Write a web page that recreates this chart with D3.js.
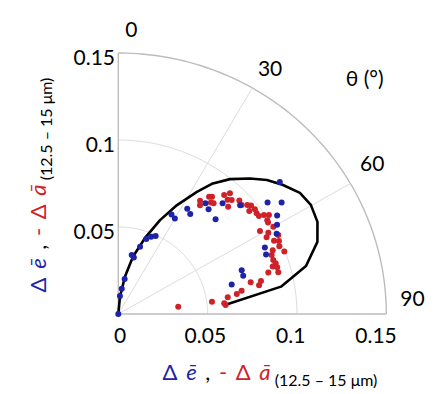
<!DOCTYPE html>
<html>
<head>
<meta charset="utf-8">
<script src="https://cdn.jsdelivr.net/npm/d3@7"></script>
<style>
  html, body { margin: 0; padding: 0; background: #fff; }
  svg { display: block; font-family: Lato, "Open Sans", sans-serif; }
</style>
</head>
<body>
<div id="chart"></div>
<script>
// radial ticks and angle ticks
const radialTicks = [0, 0.05, 0.1, 0.15];
const angleTicks = [0, 30, 60, 90];

// blue series: theta (deg), r
const blueTheta = [0, 5, 7.5, 10, 12.5, 15, 17.5, 20, 22.5, 25, 27.5, 30, 32.5, 35, 37.5, 40,
  42.5, 45, 47.5, 50, 52.5, 55, 57.5, 60, 62.5, 65, 67.5, 70, 72.5, 75];
const blueR = [0, 0.0104, 0.0147, 0.0204, 0.0347, 0.0336, 0.0405, 0.0458, 0.048, 0.0494, 0.0645,
  0.0633, 0.0718, 0.0702, 0.0802, 0.0786, 0.0864, 0.077, 0.0925, 0.118, 0.1053, 0.1116, 0.1054,
  0.1026, 0.0999, 0.0905, 0.0895, 0.0735, 0.0733, 0.0657];

// red series: theta (deg), r
const redTheta = [35.1, 36.2, 37.0, 37.9, 39.0, 40.0, 40.9, 42.0, 43.0, 44.1, 44.9, 46.1, 47.8,
  49.1, 50.0, 51.1, 51.8, 53.2, 54.4, 55.1, 56.0, 57.1, 57.9, 59.0, 60.0, 60.9, 62.0, 63.1, 64.2,
  65.0, 66.6, 67.0, 68.4, 68.9, 70.3, 71.7, 72.5, 73.2, 74.1, 75.0, 76.2, 76.6, 78.2, 79.0, 80.2,
  81.1, 82.3, 82.9, 84.1, 85.1];
const redR = [0.0796, 0.0774, 0.0844, 0.0854, 0.0824, 0.0830, 0.0905, 0.0934, 0.0897, 0.0912,
  0.0871, 0.094, 0.0932, 0.0956, 0.097, 0.0942, 0.0973, 0.0967, 0.0968, 0.0994, 0.1017, 0.0993,
  0.0989, 0.0925, 0.1002, 0.0961, 0.094, 0.1004, 0.0968, 0.0992, 0.0982, 0.0939, 0.0923, 0.0996,
  0.0921, 0.0928, 0.0906, 0.0929, 0.0873, 0.0927, 0.0763, 0.0821, 0.0805, 0.0703, 0.0673, 0.062,
  0.0529, 0.0338, 0.0596, 0.0603];

// black envelope curve: theta (deg), r
const curveTheta = [0, 5.4, 9.9, 14.0, 18.9, 23.4, 27.7, 32.1, 35.2, 38.9, 43.4, 47.2, 51.2,
  55.6, 59.8, 64.6, 69.6, 75.3, 80.2, 85.1];
const curveR = [0, 0.0101, 0.0219, 0.0341, 0.0462, 0.0588, 0.0707, 0.0828, 0.0918, 0.0996,
  0.1072, 0.1134, 0.1183, 0.1232, 0.1247, 0.1234, 0.1189, 0.1086, 0.0924, 0.0599];

const blue = "#1d22a8";
const red = "#cf2228";

const width = 446, height = 394;
const cx = 118.3, cy = 314;

// the picture is slightly squashed vertically, so use two radial scales
const rx = d3.scaleLinear().domain([0, 0.15]).range([0, 268]);
const ry = d3.scaleLinear().domain([0, 0.15]).range([0, 261]);
const rad = (deg) => deg * Math.PI / 180;
const px = (r, t) => cx + rx(r * Math.sin(rad(t)));
const py = (r, t) => cy - ry(r * Math.cos(rad(t)));

// tick label scale for the horizontal axis
const xLabel = d3.scaleLinear().domain([0, 0.15]).range([120, 376]);

const svg = d3.select("#chart")
  .append("svg")
  .attr("width", width)
  .attr("height", height);

// grid arcs
const arcAngles = d3.range(0, 90.5, 1);
const arcLine = (r) => d3.line()
  .x((t) => px(r, t))
  .y((t) => py(r, t))(arcAngles);

svg.append("g")
  .selectAll("path")
  .data(radialTicks.slice(1))
  .enter().append("path")
    .attr("d", (r) => arcLine(r))
    .attr("fill", "none")
    .attr("stroke", (r, i) => i === 2 ? "#bdbdbd" : "#dcdcdc")
    .attr("stroke-width", (r, i) => i === 2 ? 1.4 : 1);

// spokes
svg.append("g")
  .selectAll("line")
  .data(angleTicks)
  .enter().append("line")
    .attr("x1", cx)
    .attr("y1", cy)
    .attr("x2", (t) => px(0.15, t))
    .attr("y2", (t) => py(0.15, t))
    .attr("stroke", (t) => (t === 0 || t === 90) ? "#bdbdbd" : "#dcdcdc")
    .attr("stroke-width", (t) => (t === 0 || t === 90) ? 1.4 : 1);

// radial tick labels, vertical axis
svg.append("g")
  .selectAll("text")
  .data(radialTicks.slice(1))
  .enter().append("text")
    .attr("x", 115)
    .attr("y", (r) => py(r, 0) + 3)
    .attr("text-anchor", "end")
    .attr("dominant-baseline", "central")
    .style("font-size", "21px")
    .text((r) => d3.format("")(r));

// radial tick labels, horizontal axis
svg.append("g")
  .selectAll("text")
  .data(radialTicks)
  .enter().append("text")
    .attr("x", (r) => xLabel(r))
    .attr("y", cy + 20)
    .attr("text-anchor", "middle")
    .attr("dominant-baseline", "central")
    .style("font-size", "21px")
    .text((r) => d3.format("")(r));

// angle labels, nudged a little toward the middle of the quadrant
svg.append("g")
  .selectAll("text")
  .data(angleTicks)
  .enter().append("text")
    .attr("x", (t) => px(0.1625, t + (45 - t) / 25) + 4)
    .attr("y", (t) => py(0.1625, t + (45 - t) / 25) - (t >= 60 ? 8 : 3))
    .attr("text-anchor", "middle")
    .attr("dominant-baseline", "central")
    .style("font-size", "21px")
    .text((t) => t);

svg.append("text")
  .attr("x", px(0.195, 45))
  .attr("y", py(0.195, 45) + 3)
  .attr("text-anchor", "middle")
  .attr("dominant-baseline", "central")
  .style("font-size", "21px")
  .text("θ (°)");

// envelope
svg.append("path")
  .datum(d3.zip(curveTheta, curveR))
  .attr("fill", "none")
  .attr("stroke", "#000")
  .attr("stroke-width", 2.6)
  .attr("stroke-linejoin", "round")
  .attr("d", d3.line()
    .x((d) => px(d[1], d[0]))
    .y((d) => py(d[1], d[0])));

// dots
svg.append("g")
  .selectAll("circle")
  .data(d3.zip(redTheta, redR))
  .enter().append("circle")
    .attr("cx", (d) => px(d[1], d[0]))
    .attr("cy", (d) => py(d[1], d[0]))
    .attr("r", 3)
    .attr("fill", red);

svg.append("g")
  .selectAll("circle")
  .data(d3.zip(blueTheta, blueR))
  .enter().append("circle")
    .attr("cx", (d) => px(d[1], d[0]))
    .attr("cy", (d) => py(d[1], d[0]))
    .attr("r", 3)
    .attr("fill", blue);

// axis titles
function axisTitle(sel) {
  sel.append("tspan").attr("fill", blue).text("Δ ");
  sel.append("tspan").attr("fill", blue).style("font-style", "italic").text("ē");
  sel.append("tspan").attr("fill", "#000").text(" , ");
  sel.append("tspan").attr("fill", red).text("- Δ ");
  sel.append("tspan").attr("fill", red).style("font-style", "italic").text("ā");
  sel.append("tspan").attr("fill", "#000").attr("dy", 6).style("font-size", "16px")
    .style("word-spacing", "0px").text(" (12.5 – 15 μm)");
}

svg.append("text")
  .attr("x", 270)
  .attr("y", 380)
  .attr("text-anchor", "middle")
  .style("font-size", "22px")
  .style("word-spacing", "3px")
  .call(axisTitle);

svg.append("text")
  .attr("transform", "translate(46,185) rotate(-90)")
  .attr("text-anchor", "middle")
  .style("font-size", "22px")
  .style("word-spacing", "3px")
  .call(axisTitle);
</script>
</body>
</html>
